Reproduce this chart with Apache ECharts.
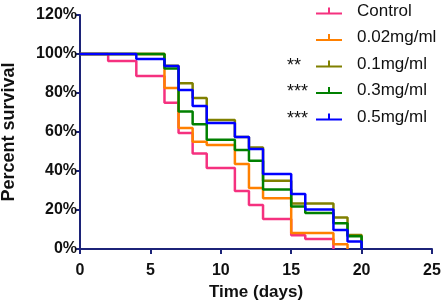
<!DOCTYPE html>
<html>
<head>
<meta charset="utf-8">
<script src="https://cdn.jsdelivr.net/npm/echarts@6/dist/echarts.min.js"></script>
<style>
  html, body { margin: 0; padding: 0; background: #fff; }
  #main { width: 446px; height: 307px; }
</style>
</head>
<body>
<div id="main"></div>
<script>
// Kaplan-Meier style survival steps
const seriesNames = ['Control', '0.02mg/ml', '0.1mg/ml', '0.3mg/ml', '0.5mg/ml'];
const seriesColors = ['#f5317f', '#ff8000', '#808000', '#008000', '#0000ff'];
const seriesStars = ['', '', '**', '***', '***'];

const controlDays = [0, 2, 4, 6, 7, 8, 9, 11, 12, 13, 15, 16, 18];
const controlPct = [100, 96.4, 88.7, 75, 59.5, 49, 41.5, 29.7, 22.6, 15.4, 7, 5.1, 0];

const dose002Days = [0, 6, 7, 8, 9, 11, 12, 13, 15, 18, 19];
const dose002Pct = [100, 82.6, 62, 55, 53.3, 43.6, 31.3, 26, 8.2, 2.5, 0];

const dose01Days = [0, 6, 7, 8, 9, 11, 12, 13, 15, 18, 19, 20];
const dose01Pct = [100, 94, 85, 77.4, 66.2, 57.4, 52, 35, 23.3, 16.2, 7.2, 0];

const dose03Days = [0, 6, 7, 8, 9, 11, 12, 13, 15, 16, 18, 19, 20];
const dose03Pct = [100, 92.6, 70.5, 64, 56, 50.8, 45.3, 30.5, 21.8, 18.5, 13.2, 6.5, 0];

const dose05Days = [0, 4, 6, 7, 8, 9, 11, 12, 13, 15, 16, 18, 19, 20];
const dose05Pct = [100, 97.5, 93.8, 81.5, 73.3, 64.6, 57.4, 51.3, 38.5, 28.2, 20.3, 9.7, 3.8, 0];

const xTicks = [0, 5, 10, 15, 20, 25];
const yTicks = [0, 20, 40, 60, 80, 100, 120];

const allDays = [controlDays, dose002Days, dose01Days, dose03Days, dose05Days];
const allPct = [controlPct, dose002Pct, dose01Pct, dose03Pct, dose05Pct];

const axisColor = '#1c2378';
const font = 'Liberation Sans, Arial, sans-serif';

const chart = echarts.init(document.getElementById('main'));

const series = seriesNames.map((name, i) => ({
  name: name,
  type: 'line',
  step: 'end',
  showSymbol: false,
  symbol: 'none',
  data: allDays[i].map((d, k) => [d, allPct[i][k]]),
  lineStyle: { color: seriesColors[i], width: 2.5 },
  itemStyle: { color: seriesColors[i] },
  animation: false
}));

const option = {
  animation: false,
  grid: { left: 80, right: 14, top: 15, bottom: 58, containLabel: false, outerBoundsMode: 'none' },
  xAxis: {
    type: 'value',
    min: xTicks[0],
    max: xTicks[xTicks.length - 1],
    interval: 5,
    name: 'Time (days)',
    nameLocation: 'middle',
    nameGap: 35,
    nameTextStyle: { fontFamily: font, fontWeight: 'bold', fontSize: 17, color: '#111' },
    axisLine: { lineStyle: { color: axisColor, width: 2 } },
    axisTick: { show: true, length: 5, lineStyle: { color: axisColor, width: 2 } },
    axisLabel: { fontFamily: font, fontWeight: 'bold', fontSize: 16, color: '#111', margin: 14 },
    splitLine: { show: false }
  },
  yAxis: {
    type: 'value',
    min: yTicks[0],
    max: yTicks[yTicks.length - 1],
    interval: 20,
    name: 'Percent survival',
    nameLocation: 'middle',
    nameGap: 62,
    nameTextStyle: { fontFamily: font, fontWeight: 'bold', fontSize: 18, color: '#111' },
    axisLine: { show: true, lineStyle: { color: axisColor, width: 2 } },
    axisTick: { show: true, length: 5, lineStyle: { color: axisColor, width: 2 } },
    axisLabel: { fontFamily: font, fontWeight: 'bold', fontSize: 16, color: '#111', margin: 3, formatter: '{value}%' },
    splitLine: { show: false }
  },
  legend: {
    orient: 'vertical',
    left: 311,
    top: -4,
    itemWidth: 26,
    itemHeight: 8,
    itemGap: 6.5,
    icon: 'path://M0,5h26v2h-26z M12,0h2v6h-2z',
    textStyle: { fontFamily: font, fontSize: 17, color: '#111', lineHeight: 20, padding: [0, 0, 0, 10] },
    data: seriesNames
  },
  graphic: seriesStars.map((s, i) => ({
    type: 'text',
    left: 287,
    top: 4 + i * 26.5,
    style: { text: s, font: '18px ' + font, fill: '#111' },
    silent: true
  })).filter((g, i) => seriesStars[i]),
  series: series
};

chart.setOption(option);
</script>
</body>
</html>
